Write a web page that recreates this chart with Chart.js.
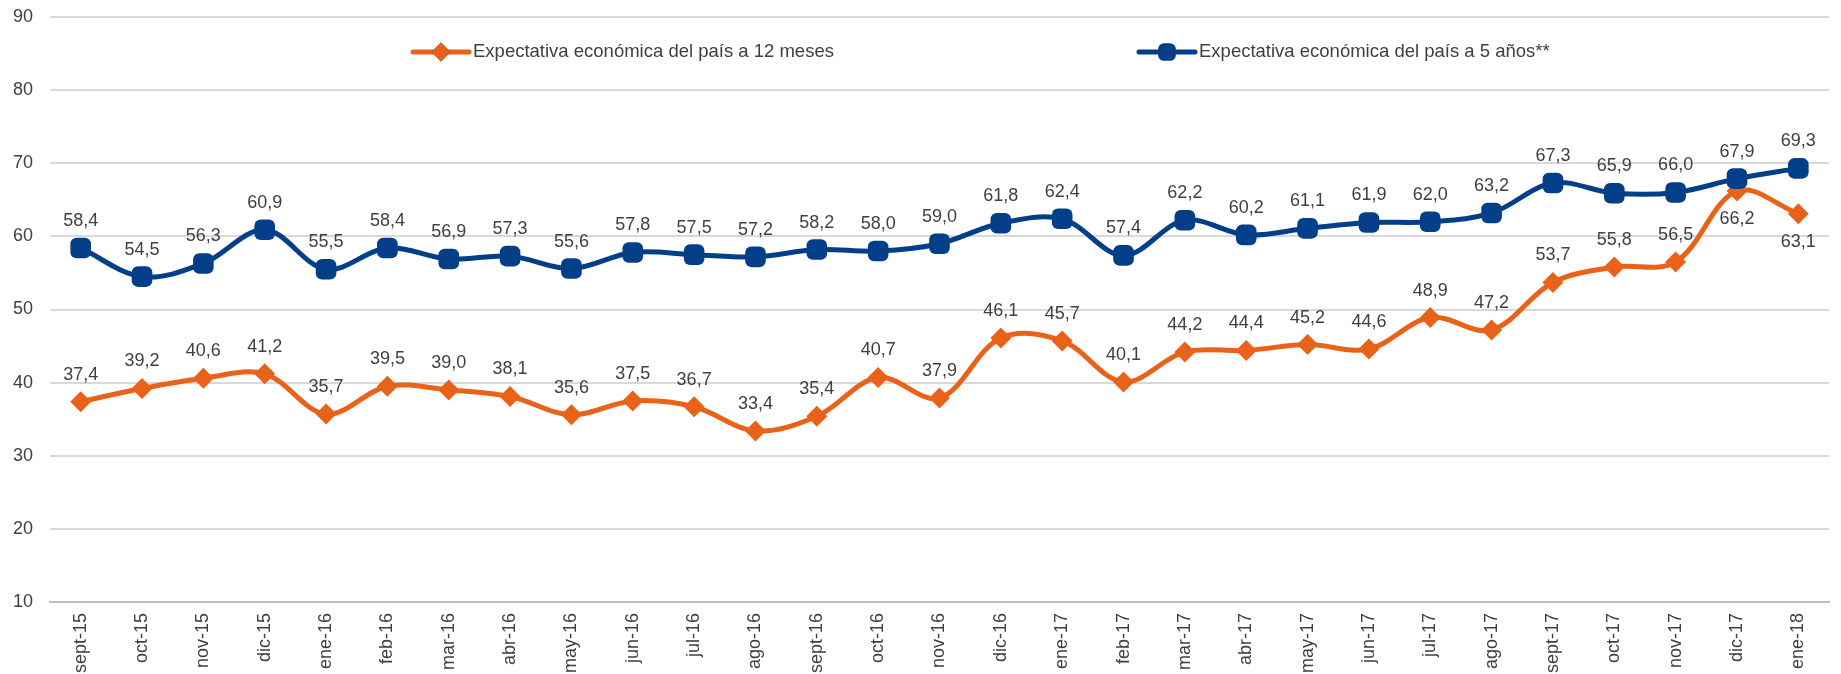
<!DOCTYPE html>
<html>
<head>
<meta charset="utf-8">
<script src="https://cdn.jsdelivr.net/npm/chart.js@4.4.1/dist/chart.umd.min.js"></script>
<style>
  html, body { margin: 0; padding: 0; background: #fff; }
  #wrap { width: 1841px; height: 674px; }
</style>
</head>
<body>
<div id="wrap"><canvas id="myChart" width="1841" height="674"></canvas></div>
<script>
var months = ["sept-15", "oct-15", "nov-15", "dic-15", "ene-16", "feb-16", "mar-16", "abr-16", "may-16", "jun-16",
  "jul-16", "ago-16", "sept-16", "oct-16", "nov-16", "dic-16", "ene-17", "feb-17", "mar-17", "abr-17",
  "may-17", "jun-17", "jul-17", "ago-17", "sept-17", "oct-17", "nov-17", "dic-17", "ene-18"];

var expectativa12m = [37.4, 39.2, 40.6, 41.2, 35.7, 39.5, 39.0, 38.1, 35.6, 37.5,
  36.7, 33.4, 35.4, 40.7, 37.9, 46.1, 45.7, 40.1, 44.2, 44.4,
  45.2, 44.6, 48.9, 47.2, 53.7, 55.8, 56.5, 66.2, 63.1];

var expectativa5a = [58.4, 54.5, 56.3, 60.9, 55.5, 58.4, 56.9, 57.3, 55.6, 57.8,
  57.5, 57.2, 58.2, 58.0, 59.0, 61.8, 62.4, 57.4, 62.2, 60.2,
  61.1, 61.9, 62.0, 63.2, 67.3, 65.9, 66.0, 67.9, 69.3];

// orange labels that sit under the point instead of above
var labelsBelow12m = ["dic-17", "ene-18"];

var orange = "#E9621A";
var blue = "#023F88";
var textColor = "#404040";
var fontFamily = "'Liberation Sans', Arial, sans-serif";

// value labels on each point (no datalabels plugin available)
var valueLabels = {
  id: "valueLabels",
  afterDatasetsDraw: function(chart) {
    var ctx = chart.ctx;
    ctx.save();
    ctx.font = "18px " + fontFamily;
    ctx.fillStyle = textColor;
    ctx.textAlign = "center";
    ctx.textBaseline = "middle";
    chart.data.datasets.forEach(function(ds, i) {
      var meta = chart.getDatasetMeta(i);
      meta.data.forEach(function(pt, j) {
        var txt = ds.data[j].toFixed(1).replace(".", ",");
        var below = ds.labelsBelow && ds.labelsBelow.indexOf(chart.data.labels[j]) >= 0;
        ctx.fillText(txt, pt.x, below ? pt.y + 28 : pt.y - 27);
      });
    });
    ctx.restore();
  }
};

// legend drawn inside the plot, like the original
var innerLegend = {
  id: "innerLegend",
  afterDraw: function(chart) {
    var ctx = chart.ctx;
    var items = [
      { ds: chart.data.datasets[0], x: 413 },
      { ds: chart.data.datasets[1], x: 1139 }
    ];
    var y = 52;
    ctx.save();
    items.forEach(function(it) {
      ctx.strokeStyle = it.ds.borderColor;
      ctx.lineWidth = 5;
      ctx.lineCap = "round";
      ctx.beginPath();
      ctx.moveTo(it.x, y);
      ctx.lineTo(it.x + 56, y);
      ctx.stroke();
      Chart.helpers.drawPoint(ctx, {
        pointStyle: it.ds.pointStyle,
        radius: it.ds.pointStyle === "rectRot" ? 9.5 : 10,
        borderWidth: 0,
        rotation: 0
      }, it.x + 28, y);
      ctx.fillStyle = it.ds.borderColor;
      ctx.fill();
      ctx.font = "18.5px " + fontFamily;
      ctx.fillStyle = textColor;
      ctx.textAlign = "left";
      ctx.textBaseline = "middle";
      ctx.fillText(it.ds.label, it.x + 60, y);
    });
    ctx.restore();
  }
};

var ctx = document.getElementById("myChart");
var myChart = new Chart(ctx, {
  type: "line",
  data: {
    labels: months,
    datasets: [
      {
        label: "Expectativa económica del país a 12 meses",
        data: expectativa12m,
        borderColor: orange,
        backgroundColor: orange,
        borderWidth: 5,
        pointStyle: "rectRot",
        pointRadius: 10.5,
        pointBorderWidth: 0,
        tension: 0.35,
        fill: false,
        order: 1,
        labelsBelow: labelsBelow12m
      },
      {
        label: "Expectativa económica del país a 5 años**",
        data: expectativa5a,
        borderColor: blue,
        backgroundColor: blue,
        borderWidth: 5,
        pointStyle: "rectRounded",
        pointRadius: 12,
        pointBorderWidth: 0,
        tension: 0.35,
        fill: false,
        order: 0
      }
    ]
  },
  options: {
    responsive: false,
    animation: false,
    layout: { padding: { top: 17, right: -4, left: 0, bottom: 0 } },
    plugins: {
      legend: { display: false },
      tooltip: { enabled: false }
    },
    scales: {
      x: {
        offset: true,
        grid: { display: false, drawTicks: false },
        border: { display: true, color: "#BFBFBF", width: 2 },
        ticks: {
          color: textColor,
          font: { family: fontFamily, size: 18 },
          minRotation: 90,
          maxRotation: 90,
          padding: 11,
          autoSkip: false
        },
        afterFit: function(scale) {
          scale.height = 72;
          scale.paddingLeft = 0;
          scale.paddingRight = 0;
        }
      },
      y: {
        min: 10,
        max: 90,
        grid: { color: "#D9D9D9", lineWidth: 2, drawTicks: false },
        border: { display: false },
        ticks: {
          stepSize: 10,
          color: textColor,
          font: { family: fontFamily, size: 18 },
          padding: 17
        },
        afterFit: function(scale) {
          scale.width = 50;
          scale.paddingTop = 0;
          scale.paddingBottom = 0;
        }
      }
    }
  },
  plugins: [valueLabels, innerLegend]
});
</script>
</body>
</html>
